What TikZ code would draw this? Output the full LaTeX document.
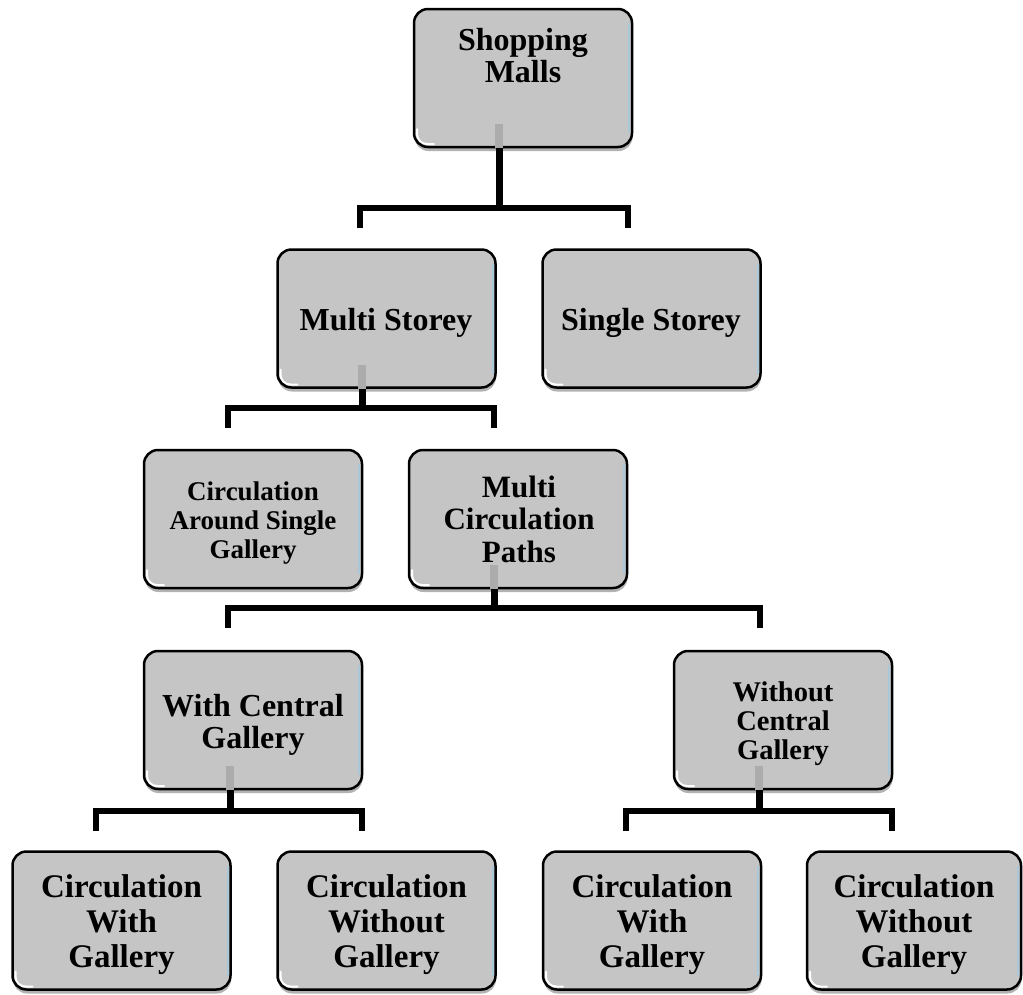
\documentclass[tikz,border=0pt]{standalone}
\usepackage{fontspec}
\setmainfont{Liberation Serif}
\usetikzlibrary{shadows,calc}
\definecolor{boxfill}{RGB}{197,197,197}
\definecolor{stubgray}{RGB}{172,172,172}
\definecolor{edgeblue}{RGB}{170,200,215}
\newcommand\fsz[2]{\fontsize{#1}{#2}\selectfont}
\newcommand\mlines[1]{\begin{tabular}[t]{@{}c@{}}#1\end{tabular}}
\begin{document}
\begin{tikzpicture}[x=1pt,y=-1pt,
 box/.style={draw=black, line width=2.5pt, fill=boxfill, rounded corners=14pt,
   minimum width=218pt, minimum height=138pt, inner sep=0pt,
   drop shadow={shadow xshift=0.5pt, shadow yshift=-4pt, opacity=0.3, fill=black},
   path picture={
     \draw[edgeblue, line width=2pt, rounded corners=0pt]
       ([xshift=-3pt,yshift=-14pt]path picture bounding box.north east) --
       ([xshift=-3pt,yshift=14pt]path picture bounding box.south east);
     \draw[white, line width=2pt, rounded corners=10pt, line cap=round]
       ([xshift=3pt,yshift=18pt]path picture bounding box.south west) --
       ([xshift=3pt,yshift=3pt]path picture bounding box.south west) --
       ([xshift=20pt,yshift=3pt]path picture bounding box.south west);
   }},
 txt/.style={inner sep=0pt, font=\bfseries, anchor=base},
 stub/.style={draw=stubgray, line width=8pt},
 stem/.style={draw=black, line width=7pt},
 bar/.style={draw=black, line width=6pt, line join=miter, line cap=butt}]
\useasboundingbox (0,0) rectangle (1023,994);

% boxes
\node[box] (sm) at (523,78) {};
\node[box] (ms) at (386.5,318.5) {};
\node[box] (ss) at (651.5,318.5) {};
\node[box] (ca) at (253,519) {};
\node[box] (mc) at (518,519) {};
\node[box] (wc) at (253,720) {};
\node[box] (wo) at (783,720) {};
\node[box] (b1) at (121.5,920.5) {};
\node[box] (b2) at (386.5,920.5) {};
\node[box] (b3) at (652,920.5) {};
\node[box, minimum width=214pt] (b4) at (914,920.5) {};

% texts
\node[txt] (smt) at (523,50) {\fsz{32}{32}\mlines{Shopping\\Malls}};
\node[txt] (mst) at (386,330) {\fsz{32}{32}Multi Storey};
\node[txt] (sst) at (651,330) {\fsz{32}{32}Single Storey};
\node[txt] (cat) at (253,500) {\fsz{27}{29}\mlines{Circulation\\Around Single\\Gallery}};
\node[txt] (mct) at (519,497) {\fsz{31}{32.5}\mlines{Multi\\Circulation\\Paths}};
\node[txt] (wct) at (253,716) {\fsz{32}{32}\mlines{With Central\\Gallery}};
\node[txt] (wot) at (783,701) {\fsz{28.5}{29}\mlines{Without\\Central\\Gallery}};
\node[txt] (b1t) at (121.5,897) {\fsz{33}{35}\mlines{Circulation\\With\\Gallery}};
\node[txt] (b2t) at (386.5,897) {\fsz{33}{35}\mlines{Circulation\\Without\\Gallery}};
\node[txt] (b3t) at (652,897) {\fsz{33}{35}\mlines{Circulation\\With\\Gallery}};
\node[txt] (b4t) at (914,897) {\fsz{33}{35}\mlines{Circulation\\Without\\Gallery}};

% connector coordinates
\coordinate (smJ) at (499,208);
\coordinate (smL) at (360,228);
\coordinate (smR) at (628,228);
\coordinate (msJ) at (362,408);
\coordinate (msL) at (228,428);
\coordinate (msR) at (494,428);
\coordinate (mcJ) at (494,608);
\coordinate (mcL) at (228,628);
\coordinate (mcR) at (760,628);
\coordinate (wcJ) at (230,811);
\coordinate (wcL) at (96,831);
\coordinate (wcR) at (362,831);
\coordinate (woJ) at (759,811);
\coordinate (woL) at (626,831);
\coordinate (woR) at (892,831);

% stubs inside boxes
\foreach \b in {sm,ms,mc,wc,wo}{
  \draw[stub] ($(\b.south -| \b J)+(0,-24)$) -- (\b.south -| \b J);
}
% stems and bars
\foreach \b in {sm,ms,mc,wc,wo}{
  \draw[stem] (\b.south -| \b J) -- (\b J);
  \draw[bar] (\b L) |- (\b J) -| (\b R);
}
\end{tikzpicture}
\end{document}
